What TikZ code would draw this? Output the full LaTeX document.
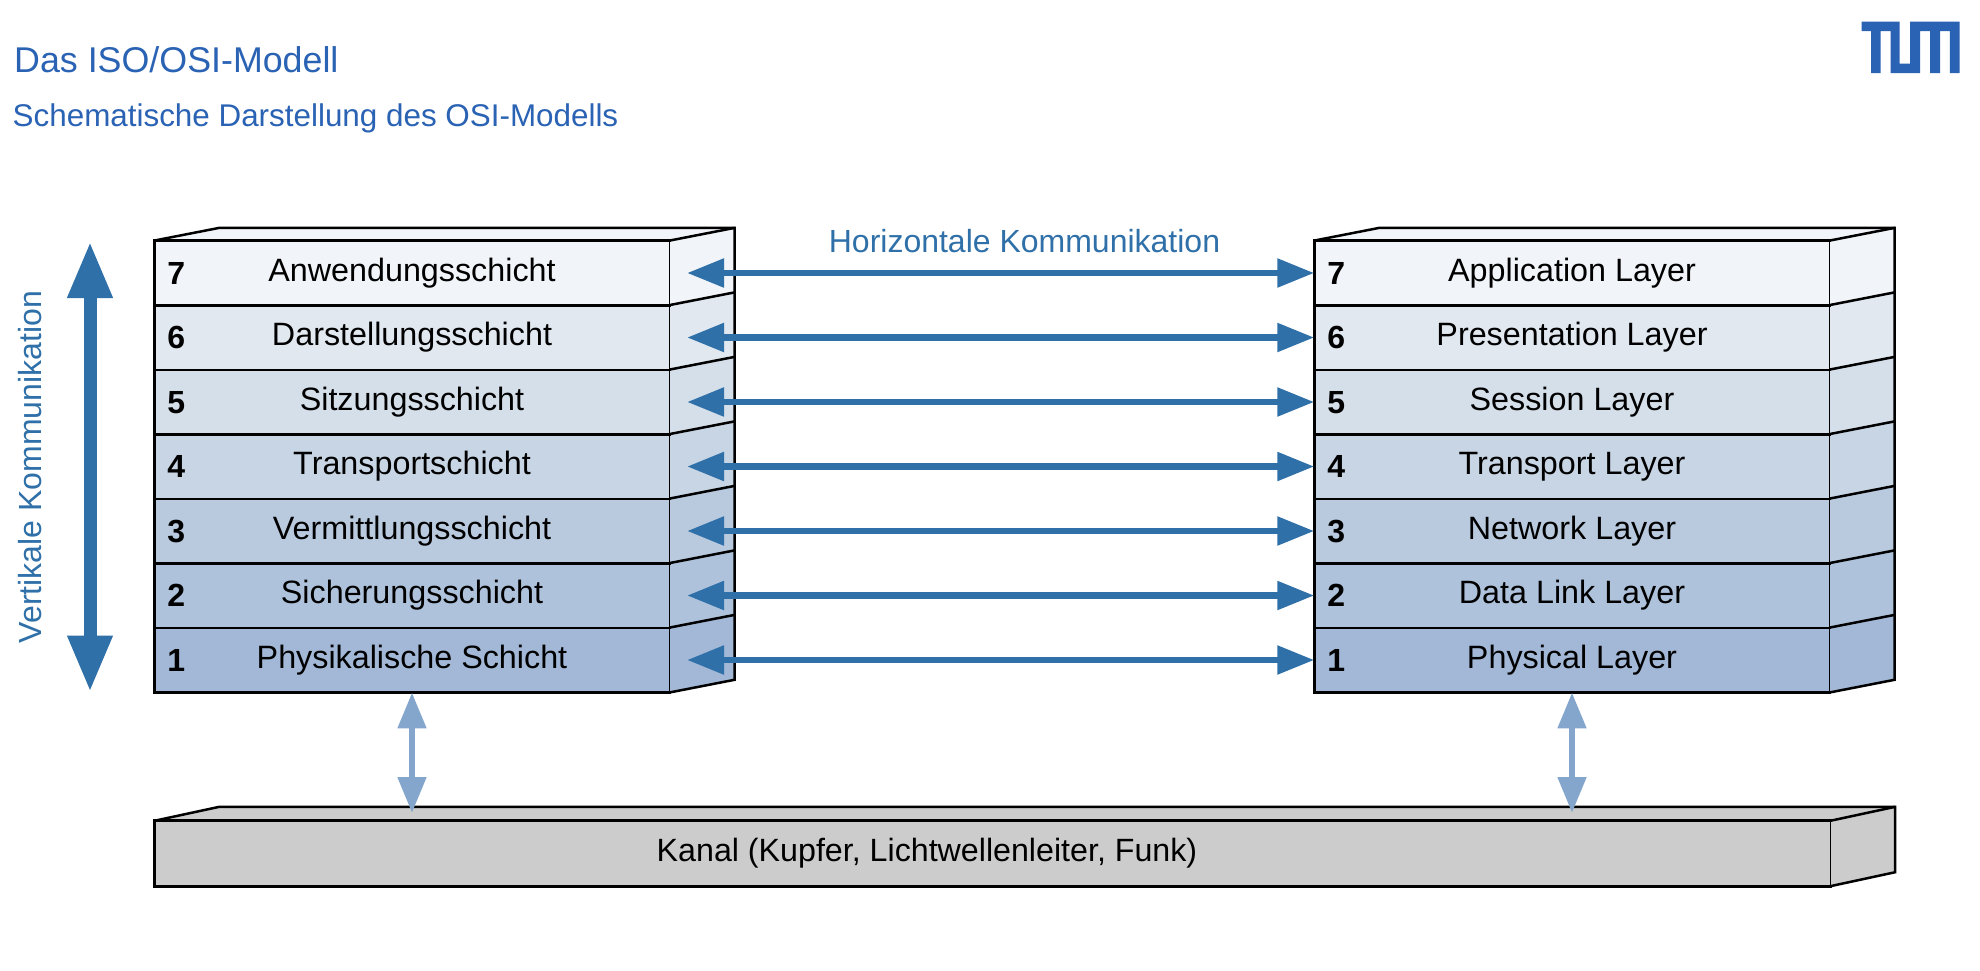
\documentclass[tikz,border=0pt]{standalone}
\usepackage{fontspec}
\setmainfont{Liberation Sans}
\usetikzlibrary{arrows.meta,calc}
\definecolor{titleblue}{HTML}{2A62B4}
\definecolor{arrowblue}{HTML}{2F70A9}
\definecolor{lightarrow}{HTML}{84A6CD}
\definecolor{row7}{HTML}{F1F4F8}
\definecolor{row6}{HTML}{E1E8F0}
\definecolor{row5}{HTML}{D5DFEA}
\definecolor{row4}{HTML}{C7D5E4}
\definecolor{row3}{HTML}{B9CADF}
\definecolor{row2}{HTML}{AEC2DB}
\definecolor{row1}{HTML}{A2B8D6}
\definecolor{chan}{HTML}{CCCCCC}
\tikzset{
  x=1pt,y=-1pt,
  layer/.style={minimum width=515pt,minimum height=64.5pt,inner sep=0pt,text height=24pt,text depth=8pt,font=\fontsize{32.3}{36}\selectfont},
  num/.style={inner sep=0pt,font=\fontsize{32}{36}\selectfont\bfseries,text height=23pt,text depth=0pt},
  outline/.style={line width=2.8pt,black,line cap=rect},
  backline/.style={line width=2.5pt,black},
  thinline/.style={line width=1.2pt,black},
  hlink/.style={draw=arrowblue,line width=6.8pt,{Triangle[length=37pt,width=27.5pt]}-{Triangle[length=37pt,width=27.5pt]}},
  vlink/.style={draw=arrowblue,line width=13pt,{Triangle[length=56.5pt,width=42pt]}-{Triangle[length=56.5pt,width=42pt]}},
  clink/.style={draw=lightarrow,line width=6.5pt,{Triangle[length=36pt,width=27.5pt]}-{Triangle[length=36pt,width=27.5pt]}},
  bluetext/.style={inner sep=0pt,text=arrowblue,font=\fontsize{32}{36}\selectfont},
  headtext/.style={inner sep=0pt,text=titleblue,anchor=west},
}
\newcommand{\stackbox}[2]{% prefix, x centre
  \foreach \n/\y in {7/273,6/337.5,5/402,4/466.5,3/531,2/595.5,1/660}{
    \node[layer,fill=row\n] (#1\n) at (#2,\y) {\csname lab#1\n\endcsname};
    \fill[row\n] (#1\n.north east) -- ++(65,-12.7) -- ($(#1\n.south east)+(65,-12.7)$) -- (#1\n.south east) -- cycle;
    \node[num,anchor=center] (#1n\n) at ($(#1\n.west)+(22,-0.5)$) {\n};
  }
  \fill[row7] (#17.north west) -- ++(65,-12.7) -- ($(#17.north east)+(65,-12.7)$) -- (#17.north east) -- cycle;
  \foreach \n in {1,...,7}{
    \draw[outline] (#1\n.south west) -- (#1\n.south east);
    \draw[backline] (#1\n.north east) -- ++(65,-12.7);
  }
  \draw[outline] (#17.north west) -- (#17.north east);
  \draw[outline] (#11.south west) -- (#17.north west);
  \draw[thinline] (#11.south east) -- (#17.north east);
  \draw[backline,line join=miter] (#17.north west) -- ++(65,-12.7) -- ($(#17.north east)+(65,-12.7)$) -- ($(#11.south east)+(65,-12.7)$) -- (#11.south east);
}
\begin{document}
\begin{tikzpicture}
\useasboundingbox (0,0) rectangle (1980,970);
\fill[white] (0,0) rectangle (1980,970);

\node[headtext,font=\fontsize{35.8}{40}\selectfont] (title) at (14,60) {Das ISO/OSI-Modell};
\node[headtext,font=\fontsize{31.4}{36}\selectfont] (subtitle) at (12.5,118) {Schematische Darstellung des OSI-Modells};

% TUM logo
\fill[titleblue] (1861.5,21.7) -- (1899.5,21.7) -- (1899.5,63.5) -- (1910,63.5) -- (1910,21.7) -- (1959.5,21.7) -- (1959.5,73) -- (1949.8,73) -- (1949.8,31) -- (1940,31) -- (1940,73) -- (1930,73) -- (1930,31) -- (1920,31) -- (1920,73) -- (1890.5,73) -- (1890.5,31) -- (1880.5,31) -- (1880.5,73) -- (1871,73) -- (1871,31) -- (1861.5,31) -- cycle;

\expandafter\def\csname labL7\endcsname{Anwendungsschicht}
\expandafter\def\csname labL6\endcsname{Darstellungsschicht}
\expandafter\def\csname labL5\endcsname{Sitzungsschicht}
\expandafter\def\csname labL4\endcsname{Transportschicht}
\expandafter\def\csname labL3\endcsname{Vermittlungsschicht}
\expandafter\def\csname labL2\endcsname{Sicherungsschicht}
\expandafter\def\csname labL1\endcsname{Physikalische Schicht}
\expandafter\def\csname labR7\endcsname{Application Layer}
\expandafter\def\csname labR6\endcsname{Presentation Layer}
\expandafter\def\csname labR5\endcsname{Session Layer}
\expandafter\def\csname labR4\endcsname{Transport Layer}
\expandafter\def\csname labR3\endcsname{Network Layer}
\expandafter\def\csname labR2\endcsname{Data Link Layer}
\expandafter\def\csname labR1\endcsname{Physical Layer}

\stackbox{L}{412}{}
\stackbox{R}{1572}{}

% channel
\node[minimum width=1675.5pt,minimum height=65pt,inner sep=0pt,fill=chan] (chan) at (992.25,853.5) {};
\node[inner sep=0pt,font=\fontsize{32.2}{36}\selectfont,text height=24pt,text depth=8pt] (chantext) at (927,853) {Kanal (Kupfer, Lichtwellenleiter, Funk)};
\fill[chan] (chan.north west) -- ++(65,-14) -- ($(chan.north east)+(65,-14)$) -- ($(chan.south east)+(65,-14)$) -- (chan.south east) -- (chan.north east) -- cycle;
\draw[outline] (chan.north east) -- (chan.north west) -- (chan.south west) -- (chan.south east);
\draw[backline,line join=miter] (chan.north west) -- ++(65,-14) -- ($(chan.north east)+(65,-14)$) -- ($(chan.south east)+(65,-14)$) -- (chan.south east);
\draw[backline] (chan.north east) -- ++(65,-14);
\draw[thinline] (chan.north east) -- (chan.south east);

% horizontal links
\foreach \n/\y in {7/273,6/337.5,5/402,4/466.5,3/531,2/595.5,1/660}{
  \coordinate (Lt\n) at (687,\y);
  \draw[hlink] (Lt\n) -- (R\n.west);
}
\node[bluetext] (hlab) at (1024.5,241) {Horizontale Kommunikation};

% vertical link
\coordinate (vtop) at (90,241.5);
\coordinate (vbot) at (90,692);
\draw[vlink] (vtop) -- (vbot);
\node[bluetext,rotate=90] (vlab) at (30,467) {Vertikale Kommunikation};

% channel links
\coordinate (cl) at (412,813);
\coordinate (cr) at (1572,813);
\draw[clink] (L1.south) -- (cl);
\draw[clink] (R1.south) -- (cr);
\end{tikzpicture}
\end{document}
